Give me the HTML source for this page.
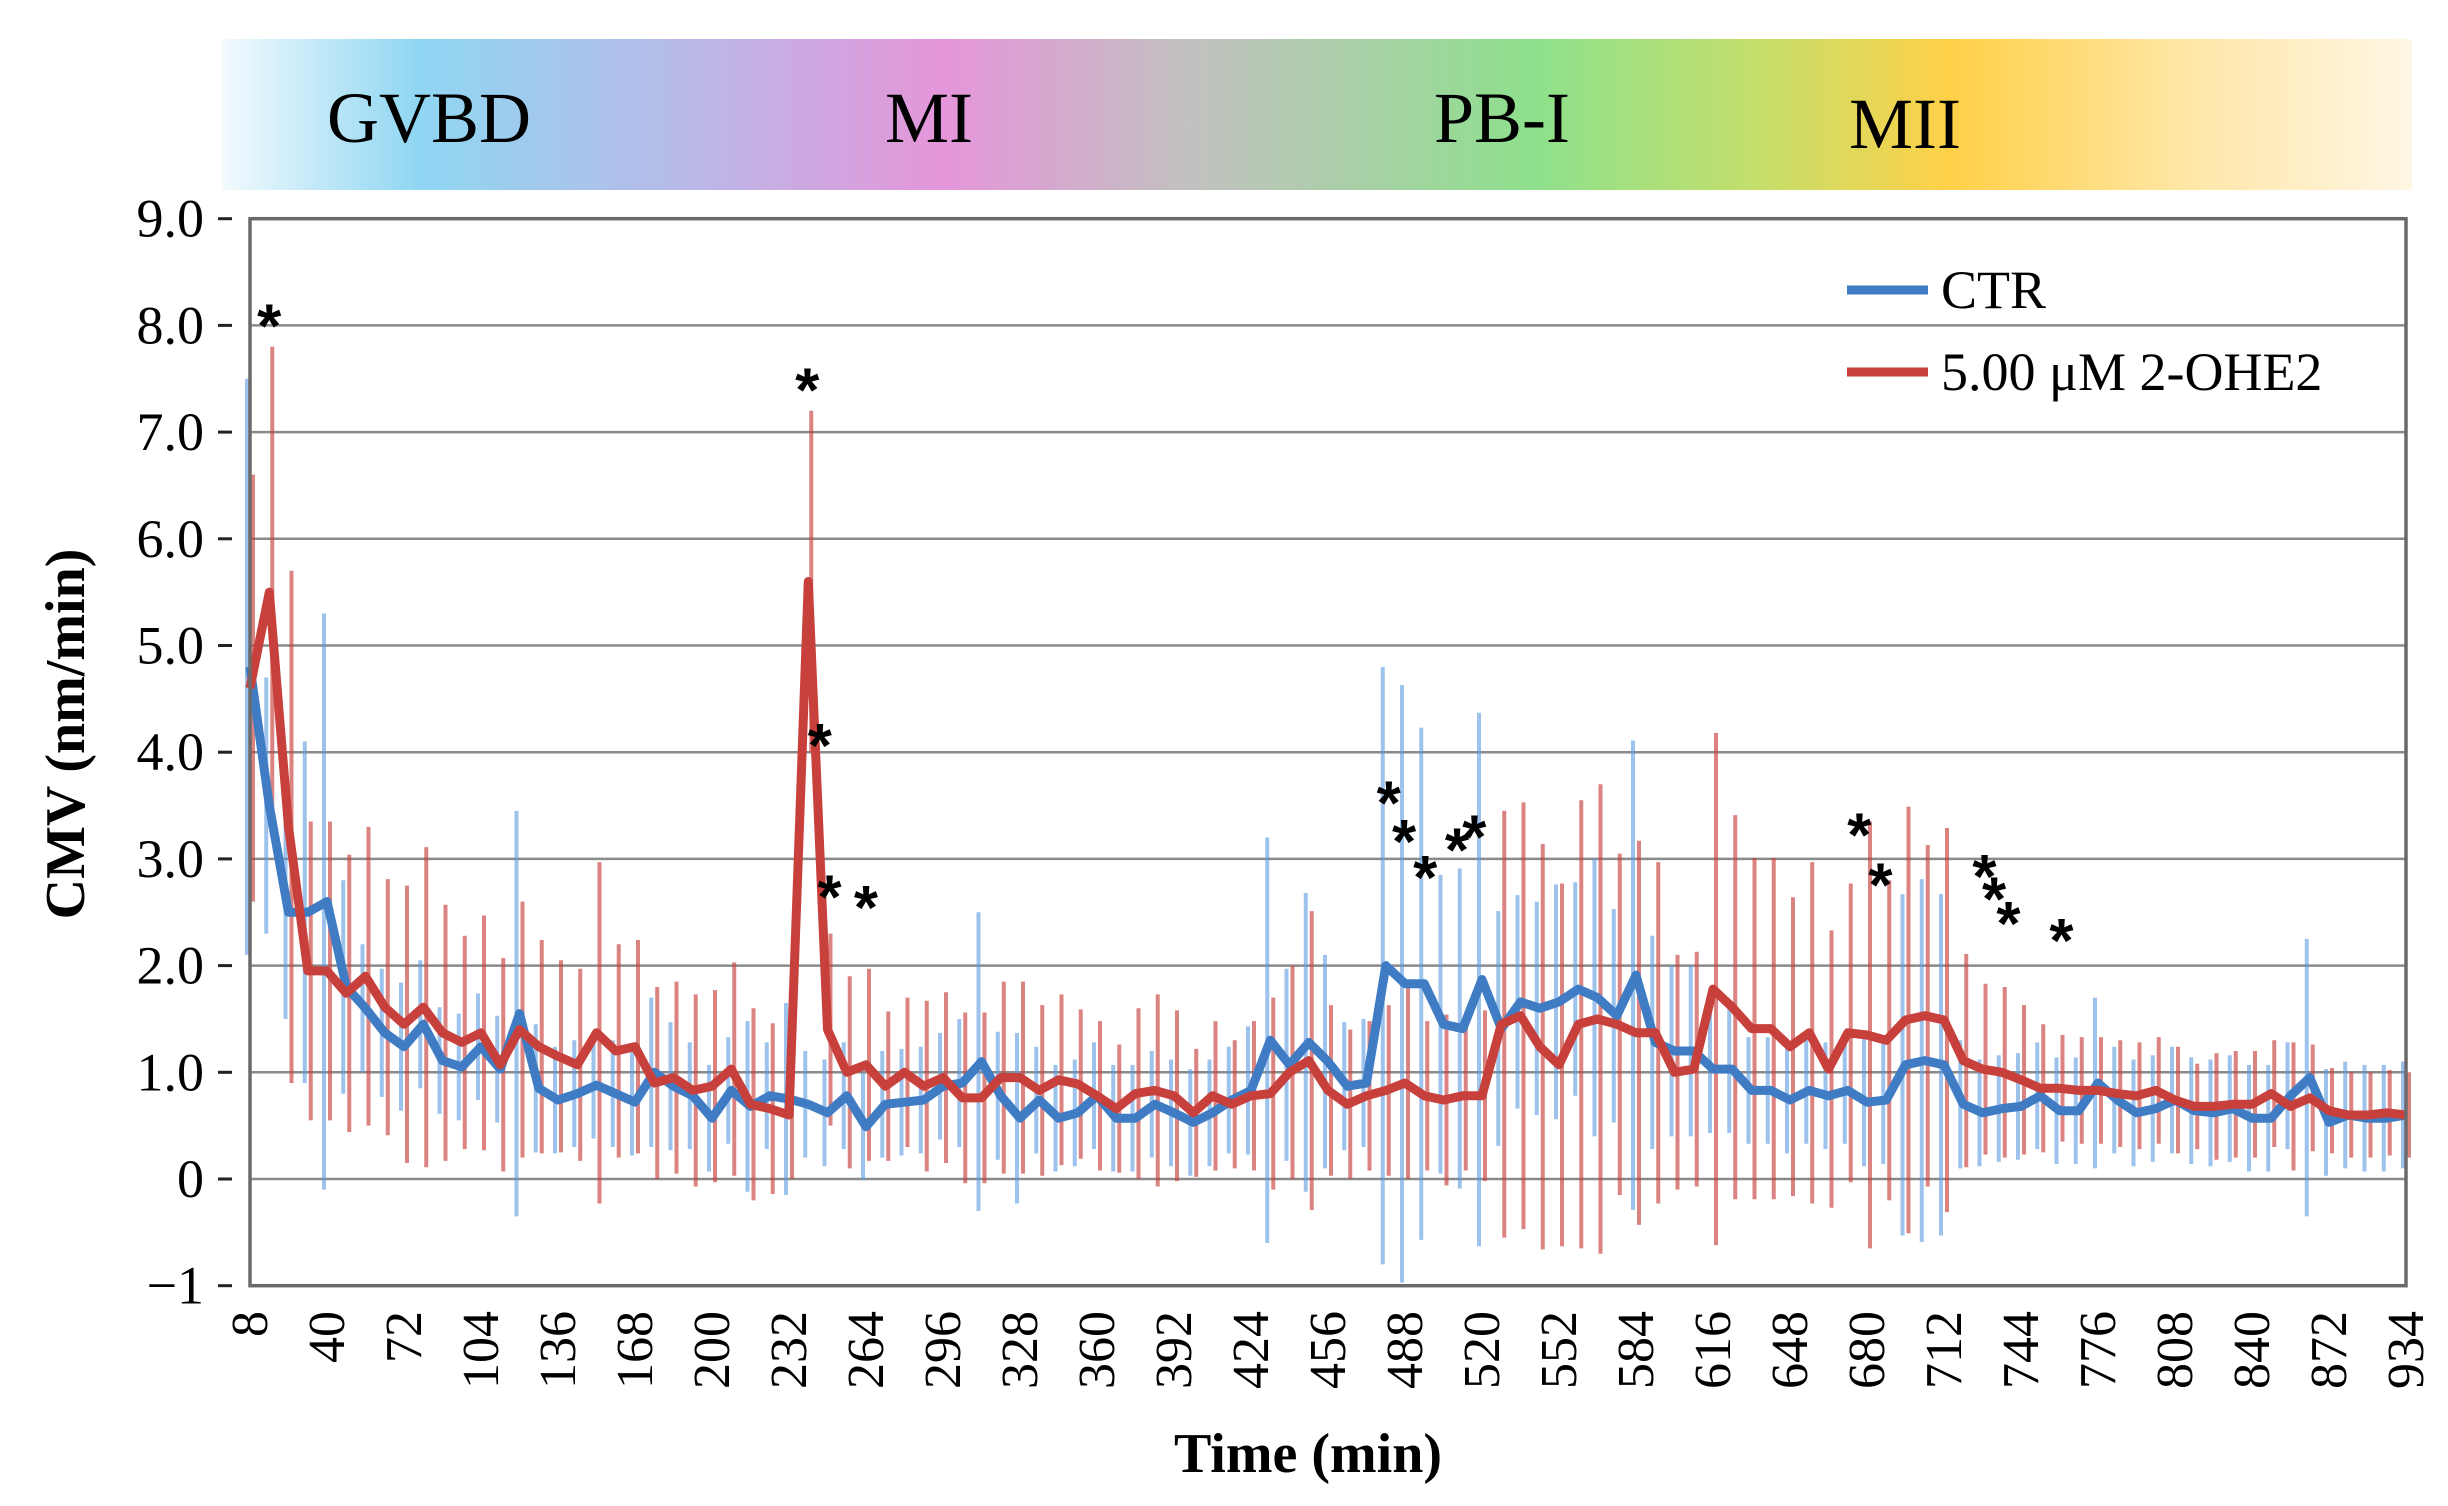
<!DOCTYPE html>
<html><head><meta charset="utf-8"><style>
html,body{margin:0;padding:0;background:#fff;}
svg{display:block;}
</style></head><body>
<svg id="chart" width="2448" height="1506" viewBox="0 0 2448 1506" xmlns="http://www.w3.org/2000/svg">
<defs>
<linearGradient id="stageGrad" x1="0" x2="1" y1="0" y2="0">
<stop offset="0" stop-color="#f2fafd"/>
<stop offset="0.09" stop-color="#8fd6f2"/>
<stop offset="0.2" stop-color="#b4bce8"/>
<stop offset="0.33" stop-color="#e596da"/>
<stop offset="0.44" stop-color="#c2c0c0"/>
<stop offset="0.6" stop-color="#8ee08c"/>
<stop offset="0.7" stop-color="#c4df6c"/>
<stop offset="0.79" stop-color="#ffd048"/>
<stop offset="0.9" stop-color="#ffe7a8"/>
<stop offset="1" stop-color="#fff6e4"/>
</linearGradient>
</defs>
<g>
<rect x="222" y="39" width="2190" height="151" fill="url(#stageGrad)"/>
<g font-family="'Liberation Serif', serif" font-size="72" fill="#000" text-anchor="middle">
<text x="429" y="142">GVBD</text>
<text x="929" y="142">MI</text>
<text x="1502" y="142">PB-I</text>
<text x="1905" y="148">MII</text>
</g>
</g>
<g id="grid"></g>
<g id="errs"></g>
<g id="lines"></g>
<g id="axes"></g>
<g id="stars"></g>
<g>
<g>
<line x1="1847" y1="290" x2="1928" y2="290" stroke="#3f7cc4" stroke-width="9"/>
<text x="1941" y="308" font-family="'Liberation Serif', serif" font-size="54">CTR</text>
</g>
<g>
<line x1="1847" y1="372" x2="1928" y2="372" stroke="#c8403c" stroke-width="9"/>
<text x="1941" y="390" font-family="'Liberation Serif', serif" font-size="54">5.00 μM 2-OHE2</text>
</g>
</g>
<text x="0" y="0" transform="translate(84,734) rotate(-90)" text-anchor="middle" font-family="'Liberation Serif', serif" font-weight="bold" font-size="56">CMV (nm/min)</text>
<text x="1308" y="1472" text-anchor="middle" font-family="'Liberation Serif', serif" font-weight="bold" font-size="56">Time (min)</text>
</svg>
<script>
const tickLabels = ['8','40','72','104','136','168','200','232','264','296','328','360','392','424','456','488','520','552','584','616','648','680','712','744','776','808','840','872','934'];
const yTicks = [9,8,7,6,5,4,3,2,1,0,-1];
const yTickLabels = ['9.0','8.0','7.0','6.0','5.0','4.0','3.0','2.0','1.0','0','\u22121'];
const ctrValues = [4.8,3.5,2.5,2.5,2.6,1.8,1.6,1.37,1.24,1.45,1.11,1.05,1.24,1.03,1.55,0.85,0.74,0.8,0.88,0.8,0.72,1.0,0.87,0.78,0.57,0.83,0.68,0.78,0.75,0.7,0.62,0.78,0.49,0.7,0.72,0.74,0.87,0.9,1.1,0.78,0.57,0.74,0.57,0.62,0.78,0.57,0.57,0.7,0.62,0.53,0.62,0.74,0.83,1.3,1.07,1.28,1.1,0.87,0.9,2.0,1.83,1.83,1.45,1.41,1.87,1.41,1.66,1.6,1.66,1.78,1.7,1.53,1.91,1.28,1.2,1.2,1.03,1.03,0.83,0.83,0.74,0.83,0.78,0.83,0.72,0.74,1.07,1.11,1.07,0.7,0.62,0.66,0.68,0.78,0.64,0.64,0.9,0.74,0.62,0.66,0.74,0.64,0.62,0.66,0.57,0.57,0.78,0.95,0.53,0.6,0.57,0.57,0.6];
const oheValues = [4.6,5.5,3.3,1.95,1.95,1.74,1.9,1.61,1.45,1.61,1.37,1.28,1.37,1.07,1.4,1.24,1.15,1.07,1.37,1.2,1.24,0.9,0.95,0.83,0.87,1.03,0.7,0.66,0.6,5.6,1.4,1.0,1.07,0.87,1.0,0.87,0.95,0.76,0.76,0.95,0.95,0.83,0.93,0.89,0.78,0.66,0.8,0.83,0.78,0.62,0.78,0.7,0.78,0.8,1.0,1.11,0.83,0.7,0.78,0.83,0.9,0.78,0.74,0.78,0.78,1.45,1.53,1.24,1.07,1.45,1.5,1.45,1.37,1.37,1.0,1.03,1.78,1.61,1.41,1.41,1.24,1.37,1.03,1.37,1.35,1.3,1.49,1.53,1.49,1.11,1.03,1.0,0.93,0.85,0.85,0.83,0.83,0.8,0.78,0.83,0.74,0.68,0.68,0.7,0.7,0.8,0.68,0.76,0.64,0.6,0.6,0.62,0.6];
const ctrErrors = [2.7,1.2,1.0,1.6,2.7,1.0,0.6,0.6,0.6,0.6,0.5,0.5,0.5,0.5,1.9,0.6,0.5,0.5,0.5,0.5,0.5,0.7,0.6,0.5,0.5,0.5,0.8,0.5,0.9,0.5,0.5,0.5,0.5,0.5,0.5,0.5,0.5,0.6,1.4,0.6,0.8,0.5,0.5,0.5,0.5,0.5,0.5,0.5,0.5,0.5,0.5,0.5,0.6,1.9,0.9,1.4,1.0,0.6,0.6,2.8,2.8,2.4,1.4,1.5,2.5,1.1,1.0,1.0,1.1,1.0,1.3,1.0,2.2,1.0,0.8,0.8,0.6,0.6,0.5,0.5,0.5,0.5,0.5,0.5,0.6,0.6,1.6,1.7,1.6,0.6,0.5,0.5,0.5,0.5,0.5,0.5,0.8,0.5,0.5,0.5,0.5,0.5,0.5,0.5,0.5,0.5,0.5,1.3,0.5,0.5,0.5,0.5,0.5];
const oheErrors = [2.0,2.3,2.4,1.4,1.4,1.3,1.4,1.2,1.3,1.5,1.2,1.0,1.1,1.0,1.2,1.0,0.9,0.9,1.6,1.0,1.0,0.9,0.9,0.9,0.9,1.0,0.9,0.8,0.6,1.6,0.9,0.9,0.9,0.7,0.7,0.8,0.8,0.8,0.8,0.9,0.9,0.8,0.8,0.7,0.7,0.6,0.8,0.9,0.8,0.6,0.7,0.6,0.7,0.9,1.0,1.4,0.8,0.7,0.7,0.8,0.9,0.7,0.8,0.7,0.8,2.0,2.0,1.9,1.7,2.1,2.2,1.6,1.8,1.6,1.1,1.1,2.4,1.8,1.6,1.6,1.4,1.6,1.3,1.4,2.0,1.5,2.0,1.6,1.8,1.0,0.8,0.8,0.7,0.6,0.5,0.5,0.5,0.5,0.5,0.5,0.5,0.4,0.5,0.5,0.5,0.5,0.6,0.5,0.4,0.4,0.4,0.4,0.4];
const starCategories = [2,57.9,59.2,60.2,64,118.3,119.9,122.1,125.4,127.2,167.2,169.4,180.2,181.2,182.7,188.2];
const starValues = [8.13,7.53,4.2,2.78,2.68,3.66,3.3,2.96,3.22,3.34,3.36,2.89,2.97,2.76,2.53,2.37];

const NS='http://www.w3.org/2000/svg';
const X0=250, X1=2406, Y0=1179, PX_PER=106.7, NCAT=224, STEP=2;
function xScale(c){return X0+c*(X1-X0)/NCAT;}
function yScale(v){return Y0-v*PX_PER;}
function mk(tag,attrs,parent){const e=document.createElementNS(NS,tag);for(const k in attrs)e.setAttribute(k,attrs[k]);parent.appendChild(e);return e;}

const grid=document.getElementById('grid');
const axes=document.getElementById('axes');
yTicks.forEach((v,i)=>{
  if(v!==-1&&v!==9){
    const gl=mk('line',{x1:X0,x2:X1,y1:yScale(v),y2:yScale(v),stroke:'#8a8a8a','stroke-width':2.5},grid);
    
    
  }
  const tk=mk('line',{x1:218,x2:232,y1:yScale(v),y2:yScale(v),stroke:'#222','stroke-width':3},axes);
  
  
  const t=mk('text',{x:204,y:yScale(v)+18,'text-anchor':'end','font-family':"'Liberation Serif', serif",'font-size':54},axes);
  t.textContent=yTickLabels[i];
  
  
});
const frame=mk('rect',{x:X0,y:yScale(9),width:X1-X0,height:yScale(-1)-yScale(9),fill:'none',stroke:'#6a6a6a','stroke-width':3.5},axes);


tickLabels.forEach((lab,i)=>{
  const c=i<tickLabels.length-1? i*8 : NCAT;
  const t=mk('text',{x:0,y:0,transform:`translate(${xScale(c)+17},1311) rotate(-90)`,'text-anchor':'end','font-family':"'Liberation Serif', serif",'font-size':52},axes);
  t.textContent=lab;
  
  
});

const errs=document.getElementById('errs');
oheValues.forEach((v,i)=>{
  const x=xScale(i*STEP)+3, e=oheErrors[i];
  const l=mk('line',{x1:x,x2:x,y1:yScale(v+e),y2:yScale(v-e),stroke:'#c8403c','stroke-opacity':0.65,'stroke-width':4},errs);
  
  
});
ctrValues.forEach((v,i)=>{
  const x=xScale(i*STEP)-3, e=ctrErrors[i];
  const l=mk('line',{x1:x,x2:x,y1:yScale(v+e),y2:yScale(v-e),stroke:'#5b9ae0','stroke-opacity':0.6,'stroke-width':4},errs);
  
  
});

const lines=document.getElementById('lines');
function pathFor(vals){return vals.map((v,i)=>(i?'L':'M')+xScale(i*STEP).toFixed(1)+','+yScale(v).toFixed(1)).join(' ');}
const pc=mk('path',{d:pathFor(ctrValues),fill:'none',stroke:'#3f7cc4','stroke-width':9,'stroke-linejoin':'round'},lines);


const po=mk('path',{d:pathFor(oheValues),fill:'none',stroke:'#c8403c','stroke-width':9,'stroke-linejoin':'round'},lines);



const stars=document.getElementById('stars');
starCategories.forEach((c,i)=>{
  const t=mk('text',{x:xScale(c),y:yScale(starValues[i])+36,'text-anchor':'middle','font-family':"'Liberation Sans', sans-serif",'font-weight':'bold','font-size':62},stars);
  t.textContent='*';
  
  
});
</script>
</body></html>
